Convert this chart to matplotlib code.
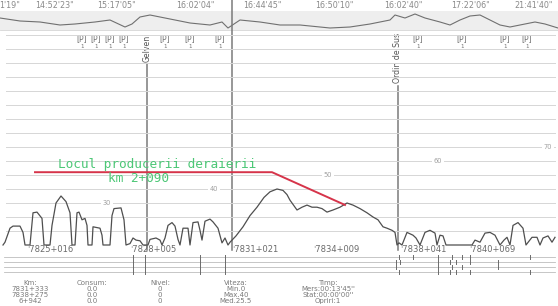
import matplotlib
matplotlib.use("Agg")
import matplotlib.pyplot as plt

# ---------------- data ----------------
# top time strip
time_labels = ["1'19\"", "14:52'23\"", "15:17'05\"", "16:02'04\"", "16:44'45\"",
               "16:50'10\"", "16:02'40\"", "17:22'06\"", "21:41'40\""]
time_pos = [10, 55, 117, 195, 262, 334, 403, 471, 534]
strip_x = [0, 20, 40, 60, 75, 95, 110, 125, 132, 140, 150, 160, 175, 190, 210, 222, 228,
           240, 260, 280, 300, 330, 350, 370, 390, 395, 405, 415, 425, 440, 450, 460,
           470, 480, 490, 500, 510, 520, 535, 545, 558]
strip_v = [18, 21, 22, 25, 24, 22, 20, 27, 24, 17, 15, 17, 20, 23, 25, 22, 28,
           20, 22, 25, 25, 28, 27, 24, 20, 15, 18, 14, 18, 22, 25, 20,
           16, 15, 20, 25, 27, 25, 22, 24, 28]

# marker row
marker_pos = [82, 96, 110, 124, 165, 190, 220, 418, 462, 505, 527]

# stations (vertical lines)
station_names = ["Gelveni", "", "Ordin de Sus"]
station_pos = [147, 232, 398]

# speed profile (position along record, speed km/h)
pos = [3, 5, 10, 13, 20, 23, 25, 30, 33, 37, 42, 44, 50, 52, 56, 61, 66, 70, 72, 75,
       77, 79, 82, 85, 87, 88, 92, 93, 100, 102, 103, 110, 112, 114, 121, 124, 126,
       130, 133, 136, 140, 143, 148, 150, 156, 160, 162, 165, 168, 172, 175, 178, 180,
       183, 188, 190, 193, 198, 200, 202, 205, 210, 213, 218, 222, 225, 228, 230, 236,
       243, 250, 257, 264, 270, 277, 283, 287, 290, 294, 297, 302, 307, 312, 317, 322,
       327, 333, 340, 347, 353, 360, 367, 373, 378, 383, 387, 392, 395, 397, 399, 402,
       407, 410, 413, 416, 420, 425, 430, 435, 437, 440, 443, 446, 450, 472, 475, 480,
       485, 490, 495, 500, 504, 507, 510, 513, 518, 523, 526, 532, 537, 540, 543, 548,
       552, 555]
speed = [0, 2, 12, 13.5, 13.5, 9, 0, 0, 23, 23.5, 19, 0, 0, 14, 30, 35, 31, 23, 0, 0,
         23, 23.5, 18, 19, 14, 0, 0, 13, 12, 7, 0, 0, 21, 26, 26.5, 18, 0,
         1, 5, 3.5, 3, 0, 0, 4, 5, 3.5, 0, 5, 14, 16, 13.5, 4, 0,
         12, 12, 0, 16, 16.5, 10.5, 3.5, 17, 18.5, 16.5, 12, 1.5, 5, 0, 2, 6.5,
         13, 21, 27, 34, 38, 40, 39, 36, 32, 28, 25, 27, 28.5, 27, 27, 26,
         23.5, 25, 27, 30, 28.5, 26, 23, 20, 18, 13, 12, 10.5, 9, 0, 1.5, 0,
         9, 8, 7, 5, 0, 9, 10.5, 8.5, 0, 7, 6.5, 0, 0, 0, 3.5, 2,
         8.5, 9, 7, 0, 3.5, 5.5, 0, 14, 16, 12, 0, 5.5, 5.5, 0, 5, 6.5,
         2, 5.5]

# grid speeds and labels
grid_speeds = list(range(10, 160, 10))
speed_label_vals = [30, 40, 50, 60, 70]
speed_label_pos = [107, 214, 328, 438, 548]

# derailment annotation
red_x = [35, 272, 345]
red_v = [52, 52, 28.6]
note_line1 = "Locul producerii deraierii"
note_line2 = "km 2+090"

# km labels
km_labels = ["7825+016", "7828+005", "7831+021", "7834+009", "7838+041", "7840+069"]
km_pos = [50, 153, 255, 336, 423, 492]

# event rows (tick positions per row)
event_rows = [
    [133, 145, 200, 225, 399, 413, 438, 452, 462, 470, 530],
    [133, 145, 200, 225, 396, 400, 438, 450, 456, 470, 498],
    [133, 145, 200, 225, 396, 438, 452, 462, 498],
    [133, 145, 200, 225, 399, 438, 450, 456, 470, 530],
]

# summary table
table_cols = [
    ["Km:", "7831+333", "7838+275", "6+942"],
    ["Consum:", "0.0", "0.0", "0.0"],
    ["Nivel:", "0", "0", "0"],
    ["Viteza:", "Min.0", "Max.40", "Med.25.5"],
    ["Timp:", "Mers:00:13'45''", "Stat:00:00'00''", "Opriri:1"],
]
table_x = [30, 92, 160, 236, 328]

# ---------------- drawing ----------------
W, H = 558, 306
fig = plt.figure(figsize=(W / 100, H / 100), dpi=100)
fig.patch.set_facecolor("white")

# pixel-space helper axes for decorations
axp = fig.add_axes([0, 0, 1, 1])
axp.set_xlim(0, W)
axp.set_ylim(H, 0)
axp.axis("off")

# speed axes: 0 km/h at y=245 px, 10 km/h per 14 px
ax = fig.add_axes([0, 0, 1, 1], sharex=axp)
ax.patch.set_alpha(0)
ax.set_ylim((245 - H) / 1.4, 245 / 1.4)
ax.axis("off")

gray_txt = "#8a8a8a"

# top strip
axp.fill_between([0, W], 11, 30, color="#eeeeee", lw=0, zorder=0)
axp.plot([0, W], [30, 30], color="#d5d5d5", lw=0.6)
axp.plot(strip_x, strip_v, color="#707070", lw=0.8)
for t, x in zip(time_labels, time_pos):
    axp.text(x, 6, t, ha="center", va="center", fontsize=5.8, color=gray_txt)

# marker row
for x in marker_pos:
    axp.text(x, 39, "[P]", ha="center", va="center", fontsize=5.6, color="#707070")
    axp.text(x, 46, "1", ha="center", va="center", fontsize=4.0, color="#707070")

# grid lines
for v in grid_speeds:
    ax.plot([6, 555], [v, v], color="#d6d6d6", lw=0.7, zorder=1)
for val, x in zip(speed_label_vals, speed_label_pos):
    ax.text(x, val, str(val), ha="center", va="center", fontsize=4.8, color="#a0a0a0",
            bbox=dict(facecolor="white", edgecolor="none", pad=1.5), zorder=2)

# station vertical lines
for name, x in zip(station_names, station_pos):
    if name:
        axp.text(x, 33, name, rotation=90, ha="center", va="top", fontsize=5.6,
                 color="#555555", zorder=4)
        top = 33 + 4.4 * len(name)
    else:
        top = 0
    axp.plot([x, x], [top, 250], color="#7a7a7a", lw=1.1, zorder=3)

# speed profile
ax.plot(pos, speed, color="#4f4f4f", lw=0.9, zorder=5)

# derailment marker
ax.plot(red_x, red_v, color="#d6344a", lw=1.4, zorder=6)
ax.text(157, 52.6, note_line1, ha="center", va="bottom", fontsize=9.2,
        family="DejaVu Sans Mono", color="#4cc776", zorder=7)
ax.text(138, 52.0, note_line2, ha="center", va="top", fontsize=9.2,
        family="DejaVu Sans Mono", color="#4cc776", zorder=7)

# km labels
for lab, x in zip(km_labels, km_pos):
    axp.text(x, 250, "\u02c8" + lab, ha="center", va="center", fontsize=6.0,
             color="#6a6a6a")

# event rows
row_y = [257, 262, 267, 272]
for y, ticks in zip(row_y, event_rows):
    axp.plot([4, 555], [y, y], color="#bdbdbd", lw=0.6)
    for x in ticks:
        axp.plot([x, x], [y - 1.8, y + 1.8], color="#6a6a6a", lw=0.7)

# summary table
row_ty = [283, 289, 295, 301]
for col, x in zip(table_cols, table_x):
    for s, y in zip(col, row_ty):
        axp.text(x, y, s, ha="center", va="center", fontsize=5.0, color="#7a7a7a")

fig.savefig("out.png", dpi=100, facecolor="white")
